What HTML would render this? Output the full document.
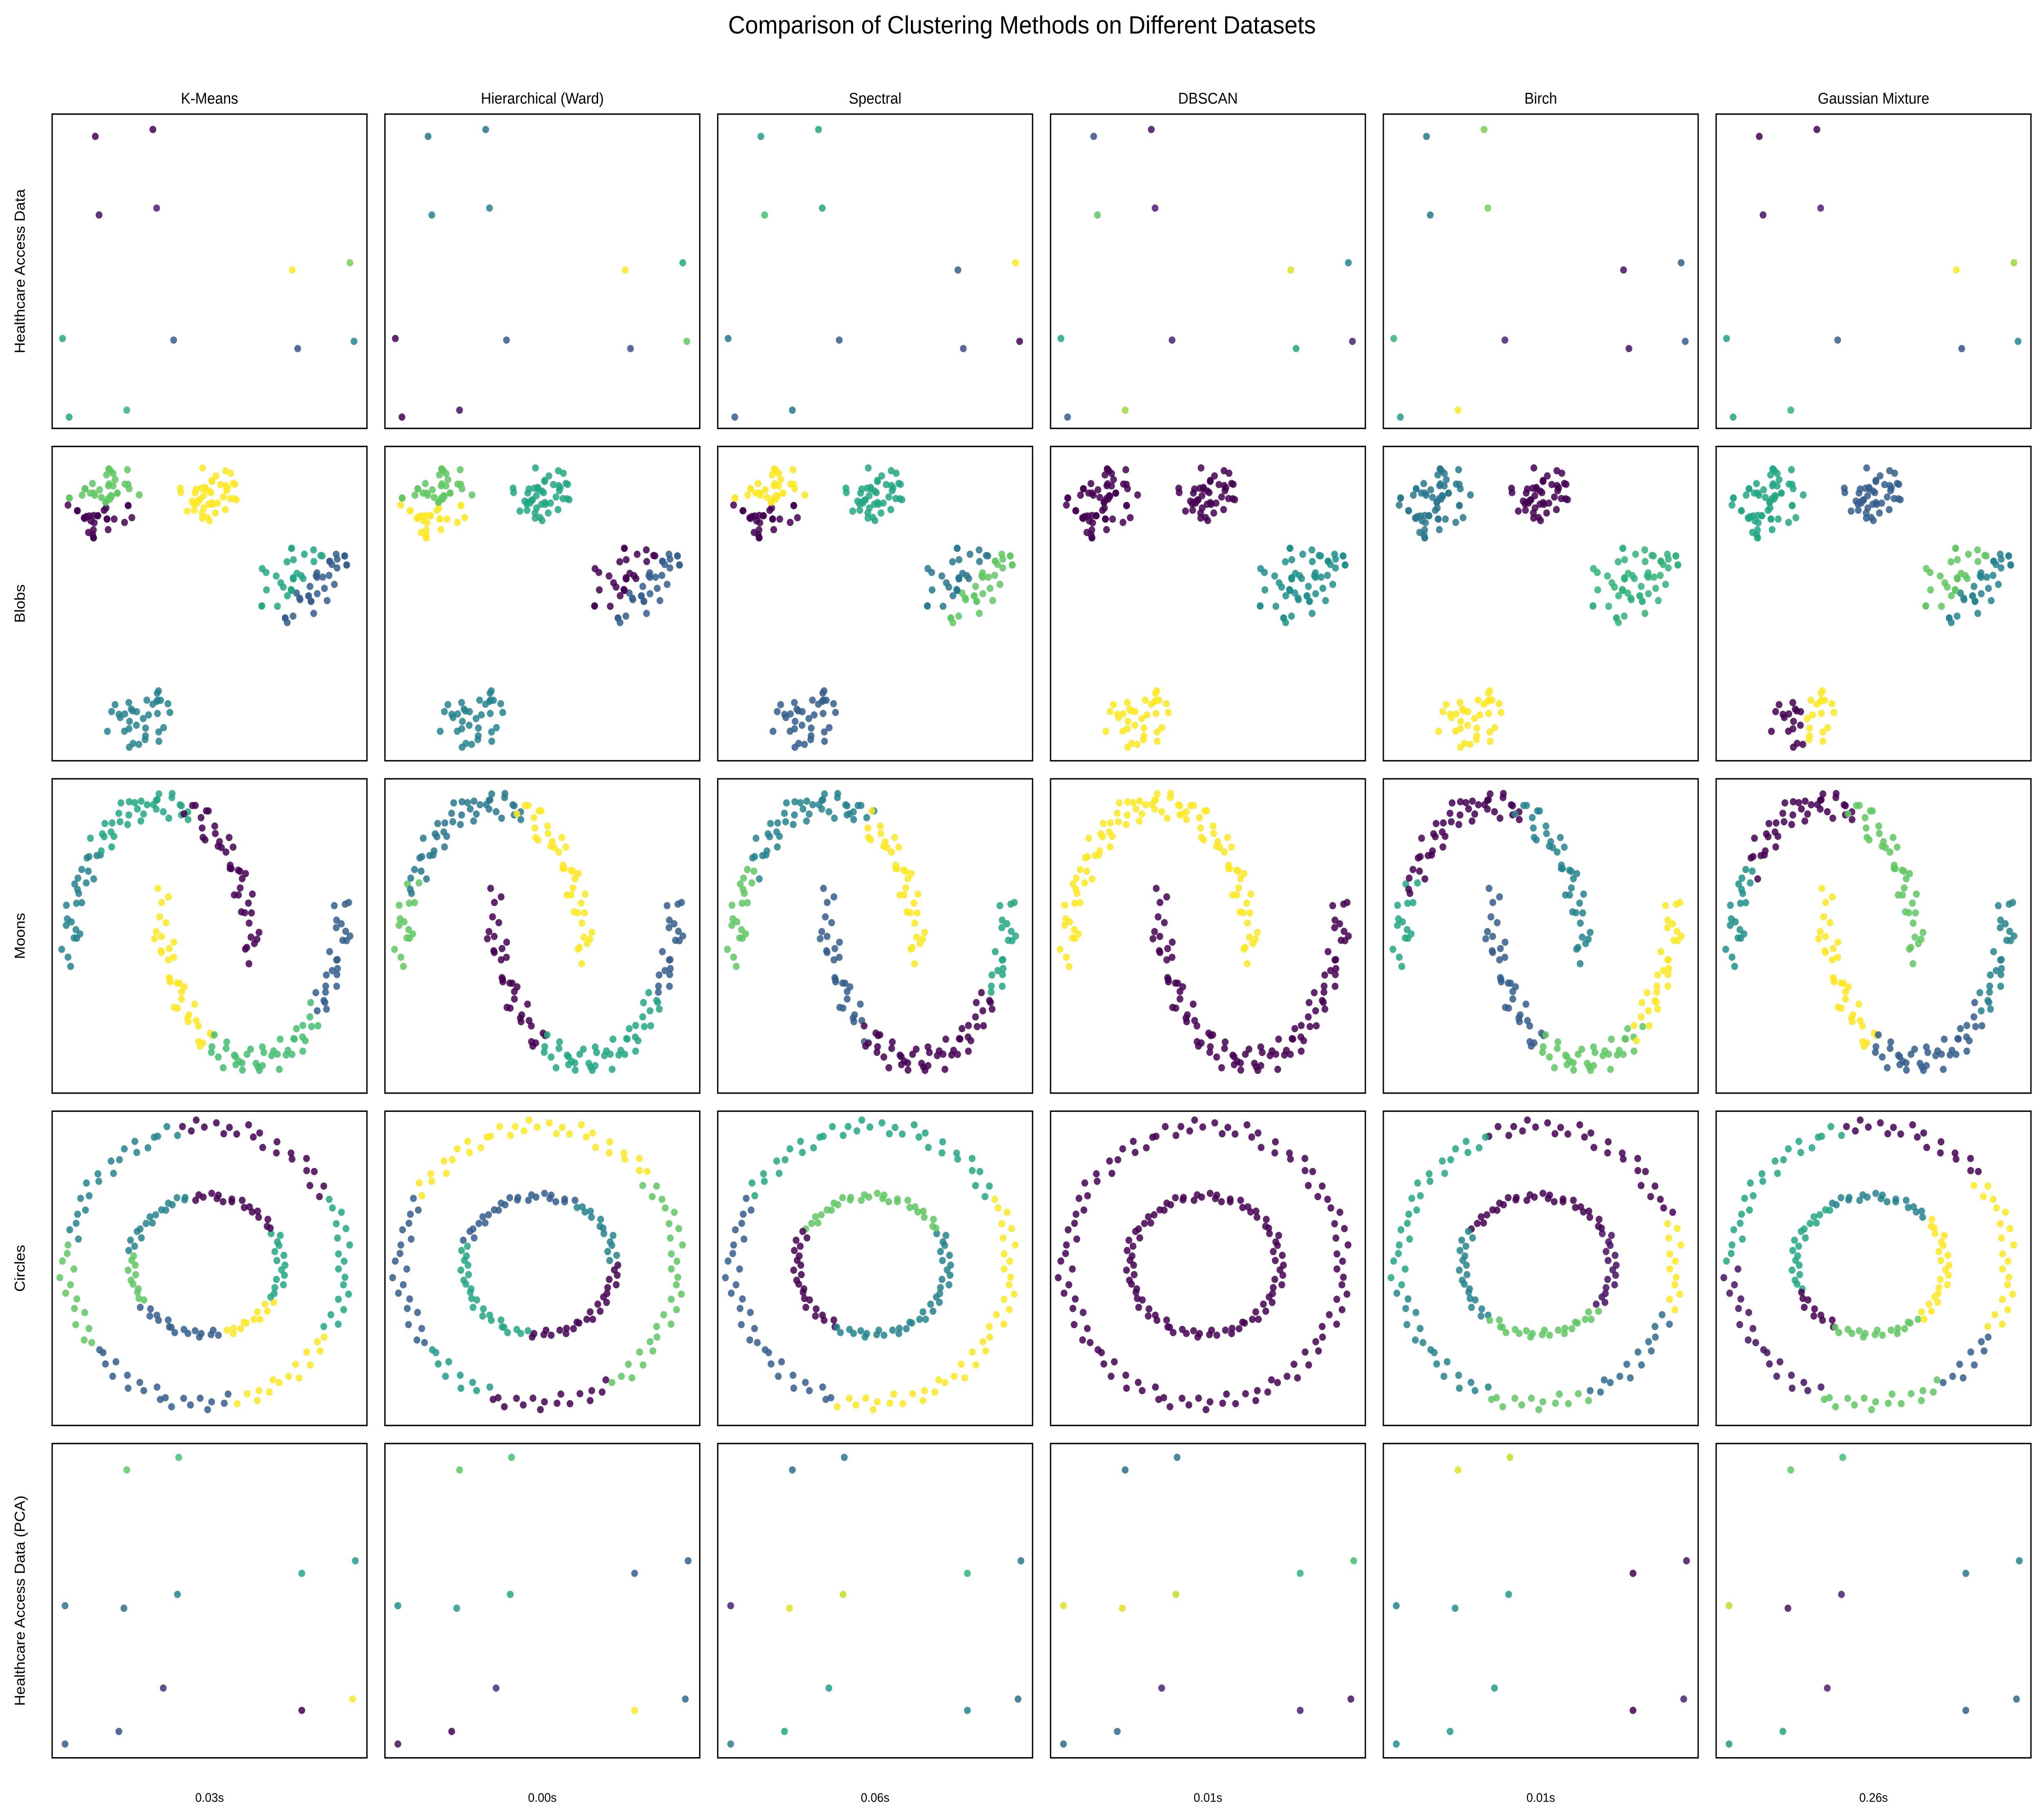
<!DOCTYPE html>
<html><head><meta charset="utf-8"><style>
html,body{margin:0;padding:0;background:#fff;width:100vw;height:100vh;overflow:hidden}
svg{display:block;width:100vw;height:100vh}
text{font-family:"Liberation Sans","DejaVu Sans",sans-serif;fill:#000}
</style></head><body>
<svg xmlns="http://www.w3.org/2000/svg" viewBox="0 0 1568 1300" preserveAspectRatio="none">
<rect width="1568" height="1300" fill="#fff"/>
<g id="fig">
<text x="784" y="24" font-size="18" text-anchor="middle">Comparison of Clustering Methods on Different Datasets</text>
</g>
</svg>
<script>
const methods=["K-Means","Hierarchical (Ward)","Spectral","DBSCAN","Birch","Gaussian Mixture"];
const datasets=["Healthcare Access Data","Blobs","Moons","Circles","Healthcare Access Data (PCA)"];
const times=["0.03s","0.00s","0.06s","0.01s","0.01s","0.26s"];
const hcX=[0.137,0.320,0.149,0.332,0.763,0.946,0.033,0.386,0.780,0.959,0.054,0.237];
const hcY=[0.929,0.951,0.679,0.701,0.504,0.527,0.286,0.281,0.254,0.277,0.036,0.058];
const hcColors=[
[0,0,0.05,0.1,1,0.8,0.6,0.3,0.25,0.45,0.6,0.65],
[0.4,0.4,0.45,0.45,1,0.6,0,0.3,0.25,0.75,0,0.05],
[0.55,0.6,0.7,0.6,0.3,1,0.4,0.3,0.25,0,0.3,0.4],
[0.25,0.05,0.75,0.1,0.95,0.45,0.6,0.1,0.6,0.1,0.3,0.85],
[0.4,0.8,0.4,0.8,0.05,0.3,0.65,0.1,0.05,0.3,0.55,1],
[0,0,0.05,0.1,1,0.85,0.55,0.3,0.25,0.45,0.6,0.65]];
const pcaX=[0.237,0.402,0.041,0.228,0.398,0.793,0.963,0.353,0.793,0.954,0.041,0.212];
const pcaY=[0.916,0.956,0.484,0.476,0.520,0.587,0.627,0.222,0.151,0.187,0.044,0.084];
const pcaColors=[
[0.75,0.7,0.4,0.35,0.45,0.6,0.55,0.15,0,1,0.3,0.25],
[0.75,0.7,0.5,0.55,0.6,0.3,0.3,0.15,1,0.35,0.05,0],
[0.35,0.4,0.1,0.95,0.9,0.65,0.4,0.55,0.45,0.35,0.45,0.6],
[0.35,0.4,0.95,0.95,0.9,0.65,0.7,0.1,0.1,0.05,0.35,0.35],
[0.95,0.9,0.45,0.5,0.55,0,0.05,0.55,0,0.1,0.5,0.55],
[0.75,0.7,0.9,0.05,0.1,0.4,0.45,0.1,0.3,0.35,0.55,0.6]];
const jit=[[0.12,-0.55],[-0.83,0.31],[0.45,0.77],[-0.21,-0.94],[0.68,0.05],[-0.49,0.62],[0.91,-0.33],[-0.07,0.18],[0.34,-0.71],[-0.66,-0.28],[0.22,0.49],[-0.95,0.02],[0.57,-0.12],[-0.31,0.88],[0.79,0.64],[-0.14,-0.41],[0.03,0.97],[-0.58,-0.73],[0.41,0.26],[-0.86,-0.52],[0.63,-0.86],[-0.27,0.35],[0.96,0.29],[-0.44,-0.09],[0.18,-0.27],[-0.72,0.71],[0.51,0.58],[-0.02,-0.66],[0.85,-0.6],[-0.38,0.11],[0.29,0.04],[-0.61,0.44],[0.74,0.38],[-0.17,-0.83],[0.08,0.63],[-0.9,-0.21],[0.47,-0.47],[-0.52,0.92],[0.66,0.81],[-0.25,-0.18],[0.37,0.14],[-0.79,0.55],[0.15,-0.9],[-0.11,0.43],[0.88,0.12],[-0.46,-0.6],[0.59,0.33],[-0.68,-0.02],[0.26,0.72],[-0.33,-0.36]];
const blobCX=[0.16,0.5,0.8,0.28];
const blobCY=[0.82,0.84,0.57,0.13];
const blobSX=[0.11,0.1,0.15,0.12];
const blobSY=[0.12,0.09,0.13,0.11];
const blobN=[60,45,60,35];
const blobSplitAxis=["y","x","d","x"];
const blobColors=[
[[0.75,0],[1,1],[0.6,0.3],[0.45,0.45]],
[[0.75,1],[0.6,0.6],[0,0.3],[0.45,0.45]],
[[1,0],[0.6,0.6],[0.4,0.75],[0.3,0.3]],
[[0,0],[0,0],[0.5,0.5],[1,1]],
[[0.4,0.4],[0,0],[0.65,0.65],[1,1]],
[[0.6,0.6],[0.3,0.3],[0.75,0.45],[0,1]]];
const moonN=100;
const moonCX=[0.345,0.635];const moonCY=[0.42,0.62];const moonRX=[0.29,0.29];const moonRY=[0.5,0.52];
const moonCuts=[[[0.25,0.45],[0.6,0.6],[1,0]],[[0.35,1],[0.75,0.7],[1,0.3]],
[[0.15,0.75],[0.6,0.4],[1,1]],[[0.35,0],[0.8,0.6],[1,0.3]],
[[0.2,0.75],[0.65,0.45],[1,1]],[[0.3,0.3],[0.8,0],[1,0.6]],
[[1,1]],[[1,0]],
[[0.15,0.6],[0.6,0],[1,0.45]],[[0.35,0.3],[0.7,0.75],[1,1]],
[[0.2,0.5],[0.6,0],[1,0.75]],[[0.35,1],[0.75,0.3],[1,0.45]]];
const circN=[110,90];const circRX=[0.44,0.24];const circRY=[0.44,0.22];const circCX=0.49;const circCY=0.51;
const circSect=[
[[30,0.6],[100,0],[170,0.45],[215,0.75],[280,0.3],[330,1],[360,0.6]],
[[30,0.6],[100,0],[170,0.45],[215,0.75],[280,0.3],[330,1],[360,0.6]],
[[40,0.75],[150,1],[215,0.3],[250,0.55],[300,0],[360,0.75]],
[[60,0.45],[160,0.3],[260,0.6],[360,0]],
[[30,1],[150,0.6],[255,0.3],[360,1]],
[[30,0.45],[150,0.75],[240,0],[360,0.45]],
[[360,0]],[[360,0]],
[[20,1],[110,0],[190,0.6],[250,0.45],[290,0.75],[340,0.35],[360,1]],
[[30,0.05],[150,0],[230,0.45],[320,0.75],[360,0.05]],
[[40,1],[100,0],[180,0.6],[250,0.05],[300,0.75],[330,0.3],[360,1]],
[[40,1],[120,0.45],[200,0.6],[240,0],[310,0.75],[360,1]]];
const vir=[[68,1,84],[72,35,116],[64,67,135],[52,94,141],[41,120,142],[32,144,140],[34,167,132],[68,190,112],[121,209,81],[189,223,38],[253,231,37]];
function viridis(t){t=Math.max(0,Math.min(1,t))*10;const i=Math.min(9,Math.floor(t)),f=t-i;const a=vir[i],b=vir[i+1];
return `rgb(${Math.round(a[0]+(b[0]-a[0])*f)},${Math.round(a[1]+(b[1]-a[1])*f)},${Math.round(a[2]+(b[2]-a[2])*f)})`;}
const NS="http://www.w3.org/2000/svg";const svg=document.getElementById('fig');
const PX0=40,PW=241.5,PSX=255.3,PY0=81.5,PH=224.5,PSY=237.4;
function px(c,x){return PX0+c*PSX+x*PW;}function py(r,y){return PY0+r*PSY+(1-y)*PH;}
function dot(g,r,c,x,y,col){const e=document.createElementNS(NS,'circle');
e.setAttribute('cx',px(c,x));e.setAttribute('cy',py(r,y));e.setAttribute('r',2.6);e.setAttribute('fill',viridis(col));e.setAttribute('fill-opacity',0.85);


g.appendChild(e);}
function sectColor(list,deg){for(const s of list){if(deg<=s[0])return s[1];}return list[list.length-1][1];}
for(let r=0;r<5;r++){
 const t=document.createElementNS(NS,'text');t.textContent=datasets[r];
 const cy=PY0+r*PSY+PH/2;t.setAttribute('x',19);t.setAttribute('y',cy);t.setAttribute('font-size',11);t.setAttribute('text-anchor','middle');
 t.setAttribute('transform',`rotate(-90 19 ${cy})`);
 
 
 svg.appendChild(t);
 for(let c=0;c<6;c++){
  const g=document.createElementNS(NS,'g');
  
  
  svg.appendChild(g);
  const rc=document.createElementNS(NS,'rect');rc.setAttribute('x',PX0+c*PSX);rc.setAttribute('y',PY0+r*PSY);rc.setAttribute('width',PW);rc.setAttribute('height',PH);rc.setAttribute('fill','none');rc.setAttribute('stroke','#000');rc.setAttribute('stroke-width',1);
  
  
  g.appendChild(rc);
  if(r===0){for(let i=0;i<hcX.length;i++)dot(g,r,c,hcX[i],hcY[i],hcColors[c][i]);}
  if(r===4){for(let i=0;i<pcaX.length;i++)dot(g,r,c,pcaX[i],pcaY[i],pcaColors[c][i]);}
  if(r===1){for(let b=0;b<4;b++){for(let i=0;i<blobN[b];i++){const j=jit[(i+b*7)%jit.length],j2=jit[(i*3+b)%jit.length];
    const dx=(j[0]*0.7+j2[1]*0.4)*blobSX[b],dy=(j[1]*0.7+j2[0]*0.4)*blobSY[b];
    const ax=blobSplitAxis[b];const v=ax==='y'?-dy:(ax==='x'?dx:(dx-dy));
    dot(g,r,c,blobCX[b]+dx,blobCY[b]+dy,blobColors[c][b][v<0?0:1]);}}}
  if(r===2){for(let m=0;m<2;m++){for(let i=0;i<moonN;i++){const u=(i+0.5)/moonN;const j=jit[(i+m*13)%jit.length];
    const ang=Math.PI*(1-u);const sgn=m===0?1:-1;
    const x=moonCX[m]+moonRX[m]*Math.cos(ang)+j[0]*0.03;
    const y=moonCY[m]+sgn*moonRY[m]*Math.sin(ang)+j[1]*0.045;
    const cuts=moonCuts[c*2+m];let col=cuts[cuts.length-1][1];for(const q of cuts){if(u<=q[0]){col=q[1];break;}}
    dot(g,r,c,x,y,col);}}}
  if(r===3){for(let ring=0;ring<2;ring++){for(let i=0;i<circN[ring];i++){const deg=(i+0.5)*360/circN[ring]+ring*2;const j=jit[(i+ring*17)%jit.length];
    const a=deg*Math.PI/180;const rr=1+j[0]*0.06;
    dot(g,r,c,circCX+circRX[ring]*rr*Math.cos(a)+j[1]*0.01,circCY+circRY[ring]*rr*Math.sin(a),sectColor(circSect[c*2+ring],deg));}}}
 }
}
for(let c=0;c<6;c++){
 const t=document.createElementNS(NS,'text');t.textContent=methods[c];t.setAttribute('x',PX0+c*PSX+PW/2);t.setAttribute('y',74);t.setAttribute('font-size',11);t.setAttribute('text-anchor','middle');
 
 
 svg.appendChild(t);
 const s=document.createElementNS(NS,'text');s.textContent=times[c];s.setAttribute('x',PX0+c*PSX+PW/2);s.setAttribute('y',1287);s.setAttribute('font-size',9);s.setAttribute('text-anchor','middle');
 
 
 svg.appendChild(s);
}
</script>
</body></html>
